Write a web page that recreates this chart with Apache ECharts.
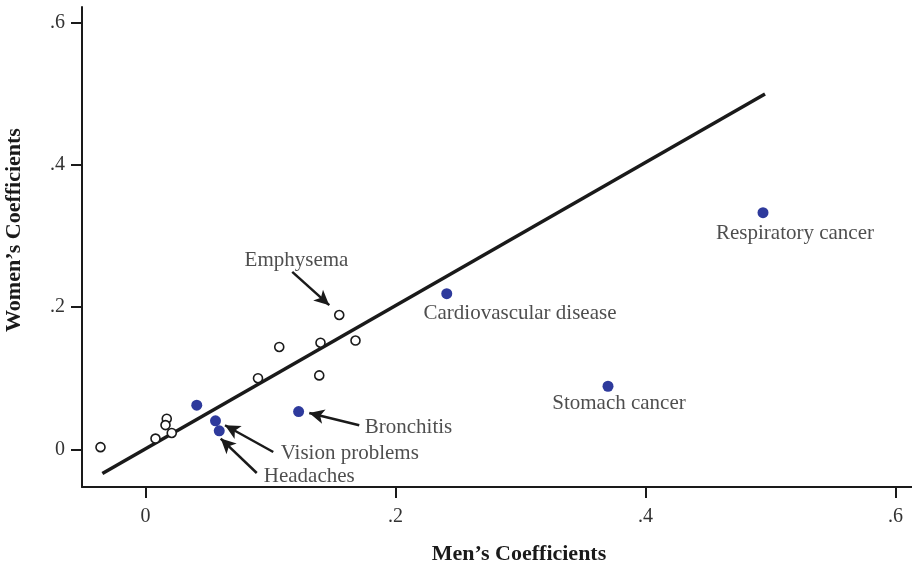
<!DOCTYPE html>
<html>
<head>
<meta charset="utf-8">
<script src="https://cdn.jsdelivr.net/npm/echarts@6/dist/echarts.min.js"></script>
<style>html,body{margin:0;padding:0;background:#fff;}#c{width:912px;height:570px;}</style>
</head>
<body>
<div id="c"></div>
<script>
// Tick values
const tickVals = [0, 0.2, 0.4, 0.6];
// Unlabeled conditions (open circles)
const menOpen   = [-0.036, 0.008, 0.017, 0.016, 0.021, 0.090, 0.107, 0.140, 0.155, 0.168, 0.139];
const womenOpen = [0.003, 0.015, 0.043, 0.034, 0.023, 0.100, 0.144, 0.150, 0.189, 0.153, 0.104];
// Highlighted conditions (blue dots)
const blueNames = ['', 'Vision problems', 'Headaches', 'Bronchitis', 'Cardiovascular disease', 'Stomach cancer', 'Respiratory cancer'];
const menBlue   = [0.041, 0.056, 0.059, 0.1225, 0.241, 0.370, 0.494];
const womenBlue = [0.062, 0.040, 0.026, 0.053, 0.219, 0.0887, 0.333];
// Fitted line endpoints
const lineX = [-0.0345, 0.4956];
const lineY = [-0.034, 0.500];
// Annotation text anchors (data coordinates)
const labelText = ['Emphysema', 'Cardiovascular disease', 'Stomach cancer', 'Respiratory cancer', 'Bronchitis', 'Vision problems', 'Headaches'];
const labelX = [0.1208, 0.2996, 0.3788, 0.5196, 0.2104, 0.1634, 0.1310];
const labelY = [0.2662, 0.1915, 0.0648, 0.3042, 0.0310, -0.0056, -0.0380];
// Arrows: tail -> tip (data coordinates)
const arrowTailX = [0.1174, 0.1710, 0.1022, 0.0890];
const arrowTailY = [0.2497, 0.0338, -0.0038, -0.0334];
const arrowTipX  = [0.1470, 0.1310, 0.0636, 0.0602];
const arrowTipY  = [0.2028, 0.0511, 0.0338, 0.0151];

const SERIF = '"Liberation Serif", "DejaVu Serif", serif';
const INK = '#1a1a1a';
const fmt = v => { if (Math.abs(v) < 1e-9) return '0'; return String(+v.toFixed(1)).replace(/^0\./, '.'); };

const chart = echarts.init(document.getElementById('c'), null, {renderer: 'canvas'});

const axisCommon = {
  type: 'value',
  axisLine: {show: true, onZero: false, lineStyle: {color: INK, width: 2}},
  axisTick: {show: true, customValues: tickVals, length: 11, lineStyle: {color: INK, width: 2}},
  axisLabel: {customValues: tickVals, formatter: fmt, fontFamily: SERIF, fontSize: 20, color: '#333'},
  splitLine: {show: false},
  nameLocation: 'middle',
  nameTextStyle: {fontFamily: SERIF, fontWeight: 'bold', fontSize: 22, color: INK}
};

const arrows = arrowTailX.map((_, i) => [
  {coord: [arrowTailX[i], arrowTailY[i]], symbol: 'none'},
  {coord: [arrowTipX[i], arrowTipY[i]], symbol: 'arrow'}
]);

chart.setOption({
  animation: false,
  backgroundColor: '#fff',
  grid: {left: 82, right: 0, top: 7, bottom: 83, containLabel: false, outerBoundsMode: 'none'},
  xAxis: Object.assign({}, axisCommon, {
    min: -0.0508, max: 0.6132,
    name: 'Men\u2019s Coefficients', nameGap: 56,
    axisLabel: Object.assign({}, axisCommon.axisLabel, {margin: 20}),
    nameTextStyle: Object.assign({}, axisCommon.nameTextStyle, {padding: [0, 0, 0, 44]})
  }),
  yAxis: Object.assign({}, axisCommon, {
    min: -0.0531, max: 0.6225,
    name: 'Women\u2019s Coefficients', nameGap: 57,
    axisLabel: Object.assign({}, axisCommon.axisLabel, {margin: 17}),
    nameTextStyle: Object.assign({}, axisCommon.nameTextStyle, {padding: [0, 0, 0, 34]})
  }),
  series: [
    {
      type: 'line', data: lineX.map((x, i) => [x, lineY[i]]),
      symbol: 'none', lineStyle: {color: INK, width: 3.5}, z: 2,
      markLine: {
        silent: true, symbol: ['none', 'arrow'], symbolSize: [11, 15],
        lineStyle: {color: INK, width: 2.5, type: 'solid'},
        label: {show: false}, data: arrows
      }
    },
    {
      type: 'scatter', data: menOpen.map((x, i) => [x, womenOpen[i]]),
      symbol: 'circle', symbolSize: 9,
      itemStyle: {color: '#fff', borderColor: INK, borderWidth: 1.6, opacity: 1}, z: 3
    },
    {
      type: 'scatter', data: menBlue.map((x, i) => ({value: [x, womenBlue[i]], name: blueNames[i]})),
      symbol: 'circle', symbolSize: 11,
      itemStyle: {color: '#2e3a9c', opacity: 1}, z: 4
    },
    {
      type: 'scatter', data: labelX.map((x, i) => ({value: [x, labelY[i]], name: labelText[i]})),
      symbolSize: 0, silent: true, z: 5,
      label: {show: true, position: 'inside', formatter: p => p.name, fontFamily: SERIF, fontSize: 21, color: '#222', align: 'center', verticalAlign: 'middle'}
    }
  ]
});
</script>
</body>
</html>
